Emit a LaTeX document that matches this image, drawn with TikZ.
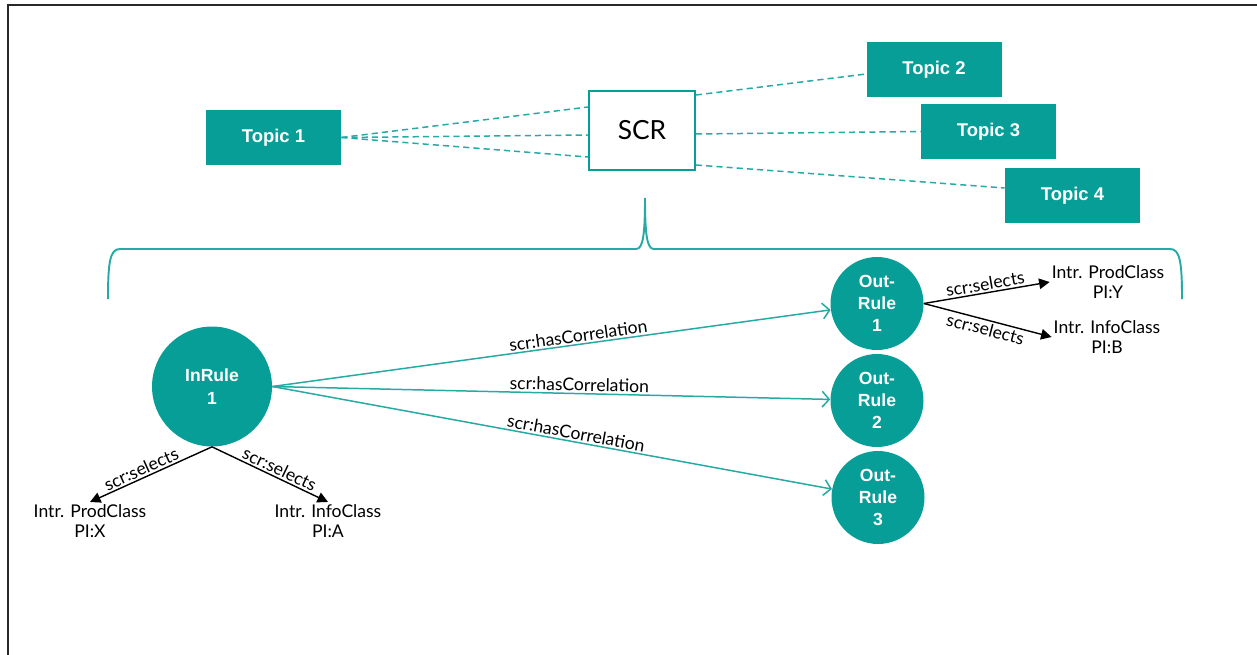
\documentclass[tikz,border=0pt]{standalone}
\usepackage{fontspec}
\setmainfont{Lato}
\newfontfamily\headfont{Liberation Sans}
\usetikzlibrary{arrows.meta,positioning,calc}
\definecolor{scrteal}{RGB}{7,158,152}
\definecolor{scrline}{RGB}{38,170,163}
\definecolor{framegray}{RGB}{40,40,40}
\tikzset{
  topicbox/.style={fill=scrteal,text=white,font=\headfont\bfseries\fontsize{10.5}{12}\selectfont,
    minimum width=2.7cm,minimum height=1.1cm,inner sep=0pt},
  scrbox/.style={draw=scrteal,line width=1.2pt,fill=white,minimum width=2.12cm,
    minimum height=1.58cm,font=\fontsize{15}{17}\selectfont},
  rulenode/.style={circle,fill=scrteal,text=white,align=center,inner sep=0pt,
    font=\headfont\bfseries\fontsize{10}{12.7}\selectfont},
  classlabel/.style={align=center,font=\fontsize{10}{11.8}\selectfont,inner sep=1pt},
  topiclink/.style={scrline,line width=0.85pt,dash pattern=on 3.5pt off 2.3pt},
  corrarrow/.style={scrline,line width=0.85pt,-{Straight Barb[length=4pt,width=9pt]}},
  selarrow/.style={black,line width=0.8pt,-{Triangle[length=6pt,width=6pt]}},
  edgetext/.style={text=black,font=\fontsize{10}{11}\selectfont,inner sep=1pt}
}
\begin{document}
\begin{tikzpicture}[x=0.02cm,y=-0.02cm]
  \useasboundingbox (0,0) rectangle (1257,655);
  % frame
  \draw[framegray,line width=1.2pt] (8,655) -- (8,5) -- (1257,5);
  % topics
  \node[topicbox] (topic1) at (273.5,137.5) {Topic 1};
  \node[topicbox] (topic2) at (934,69.5) {Topic 2};
  \node[topicbox] (topic3) at (988.5,131.5) {Topic 3};
  \node[topicbox] (topic4) at (1072.5,195.5) {Topic 4};
  % SCR
  \node[scrbox] (scr) at (642,130.5) {SCR};
  % dashed links
  \draw[topiclink] (topic1.east) -- ($(scr.west)+(0,-23.5)$);
  \draw[topiclink] (topic1.east) -- ($(scr.west)+(0,4.5)$);
  \draw[topiclink] (topic1.east) -- ($(scr.west)+(0,26.5)$);
  \draw[topiclink] ($(scr.east)+(0,-35.5)$) -- ($(topic2.west)+(0,4.5)$);
  \draw[topiclink] ($(scr.east)+(0,3.5)$) -- (topic3.west);
  \draw[topiclink] ($(scr.east)+(0,34.5)$) -- ($(topic4.west)+(0,-7.5)$);
  % brace
  \draw[scrline,line width=1.1pt] (108,299) .. controls (108,262) and (110,249) .. (120,249)
    -- (636,249) .. controls (643,249) and (645,235) .. (645,198)
    .. controls (645,235) and (647,249) .. (654,249)
    -- (1170,249) .. controls (1180,249) and (1182,262) .. (1182,299);
  % rules
  \node[rulenode,minimum size=2.4cm] (inrule) at (212,386.5) {InRule\\1};
  \node[rulenode,minimum size=1.86cm] (outrule1) at (877,303.5) {Out-\\Rule\\1};
  \node[rulenode,minimum size=1.86cm] (outrule2) at (877,400.5) {Out-\\Rule\\2};
  \node[rulenode,minimum size=1.86cm] (outrule3) at (878,497.5) {Out-\\Rule\\3};
  % classes
  \node[classlabel] (prodx) at (90,521) {Intr. ProdClass\\PI:X};
  \node[classlabel] (infoa) at (328,521) {Intr. InfoClass\\PI:A};
  \node[classlabel] (prody) at (1108,282) {Intr. ProdClass\\PI:Y};
  \node[classlabel] (infob) at (1107,337) {Intr. InfoClass\\PI:B};
  % correlations
  \draw[corrarrow] (inrule.east) -- (outrule1)
    node[edgetext,pos=0.55,above,sloped] {scr:hasCorrelation};
  \draw[corrarrow] (inrule.east) -- (outrule2)
    node[edgetext,pos=0.55,above,sloped] {scr:hasCorrelation};
  \draw[corrarrow] (inrule.east) -- (outrule3)
    node[edgetext,pos=0.54,above,sloped] {scr:hasCorrelation};
  % selects
  \draw[selarrow] (inrule.south) -- (prodx.north)
    node[edgetext,pos=0.55,above,sloped] {scr:selects};
  \draw[selarrow] (inrule.south) -- (infoa.north)
    node[edgetext,pos=0.55,above,sloped] {scr:selects};
  \draw[selarrow] (outrule1.east) -- (prody.west)
    node[edgetext,midway,above,sloped] {scr:selects};
  \draw[selarrow] (outrule1.east) -- (infob.west)
    node[edgetext,midway,below,sloped] {scr:selects};
\end{tikzpicture}
\end{document}
